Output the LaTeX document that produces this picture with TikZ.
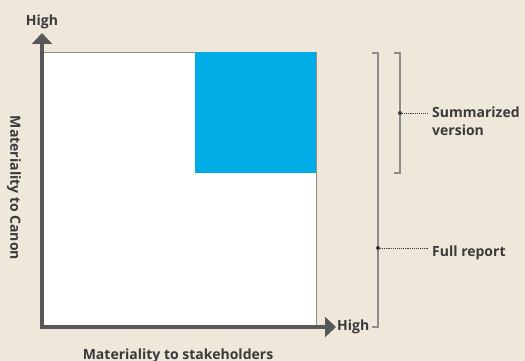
\documentclass[tikz,border=0pt]{standalone}
\usepackage{fontspec}
\setmainfont{Open Sans}
\usetikzlibrary{arrows.meta,positioning}

\definecolor{paper}{HTML}{EEE7DA}
\definecolor{canon}{HTML}{00ACE6}
\definecolor{axisgray}{HTML}{58585A}
\definecolor{rulegray}{HTML}{8C8C8C}
\definecolor{ink}{HTML}{3A3A3C}

\begin{document}
\begin{tikzpicture}[x=1pt,y=-1pt,>={Triangle[length=11pt,width=20pt]},
    font=\fontsize{14}{18}\selectfont\bfseries,text=ink]
    % Matrix TiKZ Styles
    \tikzstyle{every node}=[inner sep=0pt]
    \tikzstyle{axisline}=[draw=axisgray,line width=4pt]
    \tikzstyle{bracket}=[draw=rulegray,line width=1.2pt]
    \tikzstyle{leader}=[draw=ink,densely dotted,line width=0.9pt]

    \useasboundingbox[fill=paper] (0,0) rectangle (525,361);

    % Nodes, positions, and labels
    \node[draw=rulegray,fill=white,minimum width=273pt,minimum height=274pt,
          anchor=north west] (mat) at (43,52) {};
    \node[fill=canon,minimum size=121pt,anchor=north east] (top) at (mat.north east) {};

    \coordinate (o)    at (42,327);
    \coordinate (ytip) at (42,33);
    \coordinate (xtip) at (336,327);
    \draw[axisline,<->] (ytip) -- (o) -- (xtip);

    \node[above=4pt of ytip] (yhigh) {High};
    \node[right=1pt of xtip] (xhigh) {High};
    \node[rotate=-90] (ylab) at (14,188) {Materiality to Canon};
    \node[anchor=base] (xlab) at (178,359) {Materiality to stakeholders};

    % Brackets and labels
    \coordinate (f_1) at (378,53);
    \coordinate (f_2) at (378,327);
    \coordinate (s_1) at (400,53);
    \coordinate (s_2) at (400,173);
    \draw[bracket] ([xshift=-6pt]f_1) -- (f_1) -- (f_2) -- ([xshift=-6pt]f_2);
    \draw[bracket] ([xshift=-6pt]s_1) -- (s_1) -- (s_2) -- ([xshift=-6pt]s_2);

    \coordinate (sdot) at (400,113);
    \coordinate (fdot) at (378,248);
    \node[anchor=north west,align=left] (sum)  at (432,107) {Summarized\\version};
    \node[anchor=base west]             (full) at (432,256) {Full report};

    \fill[ink] (sdot) circle (2pt);
    \fill[ink] (fdot) circle (2pt);
    \draw[leader] (sdot) -- ([xshift=-4pt]sum.west |- sdot);
    \draw[leader] (fdot) -- ([xshift=-4pt]full.west |- fdot);

\end{tikzpicture}
\end{document}
